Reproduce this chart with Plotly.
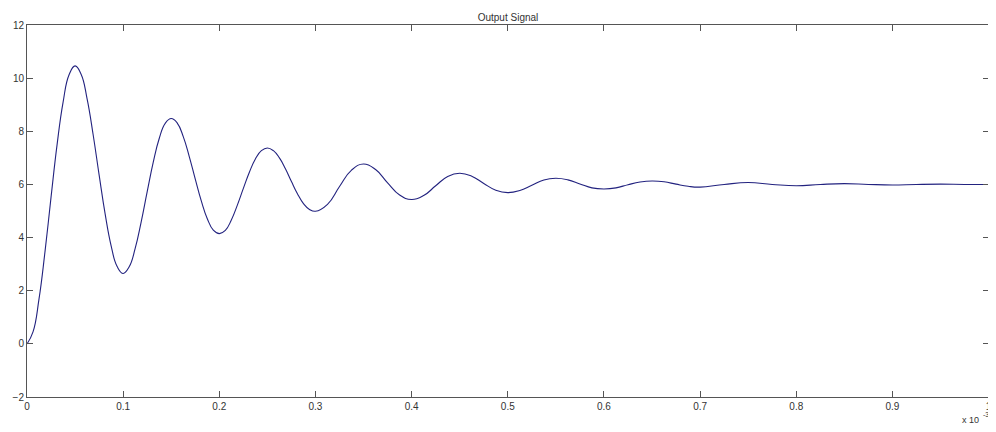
import plotly.graph_objects as go

# time in units of 1e-3 s
t_ms = [0, 0.00625, 0.0125, 0.01875, 0.025, 0.03125, 0.0375, 0.04375,
        0.05, 0.05625, 0.0625, 0.06875, 0.075, 0.08125, 0.0875, 0.09375,
        0.1, 0.10625, 0.1125, 0.11875, 0.125, 0.13125, 0.1375, 0.14375,
        0.15, 0.15625, 0.1625, 0.16875, 0.175, 0.18125, 0.1875, 0.19375,
        0.2, 0.20625, 0.2125, 0.21875, 0.225, 0.23125, 0.2375, 0.24375,
        0.25, 0.25625, 0.2625, 0.26875, 0.275, 0.28125, 0.2875, 0.29375,
        0.3, 0.3125, 0.325, 0.3375, 0.35, 0.3625, 0.375, 0.3875,
        0.4, 0.4125, 0.425, 0.4375, 0.45, 0.4625, 0.475, 0.4875,
        0.5, 0.5125, 0.525, 0.5375, 0.55, 0.5625, 0.575, 0.5875,
        0.6, 0.6125, 0.625, 0.6375, 0.65, 0.6625, 0.675, 0.6875,
        0.7, 0.725, 0.75, 0.775, 0.8, 0.825, 0.85, 0.875,
        0.9, 0.925, 0.95, 0.975, 1.0]
output = [0, 0.45, 1.69, 3.48, 5.52, 7.49, 9.09, 10.13,
          10.46, 10.15, 9.22, 7.88, 6.36, 4.89, 3.69, 2.91,
          2.65, 2.90, 3.59, 4.59, 5.73, 6.83, 7.73, 8.30,
          8.48, 8.31, 7.80, 7.05, 6.20, 5.38, 4.71, 4.28,
          4.15, 4.27, 4.66, 5.22, 5.85, 6.46, 6.96, 7.27,
          7.37, 7.27, 7.00, 6.59, 6.11, 5.65, 5.28, 5.06,
          4.99, 5.25, 5.92, 6.54, 6.77, 6.56, 6.06, 5.60,
          5.43, 5.58, 5.95, 6.30, 6.42, 6.31, 6.035, 5.78,
          5.69, 5.77, 5.97, 6.17, 6.23, 6.17, 6.02, 5.87,
          5.83, 5.87, 5.99, 6.09, 6.13, 6.10, 6.01, 5.93,
          5.90, 6.0, 6.07, 6.0, 5.95, 6.0, 6.03, 6.0,
          5.98, 6.0, 6.01, 6.0, 6.0]

x_ticks = [0, 0.1, 0.2, 0.3, 0.4, 0.5, 0.6, 0.7, 0.8, 0.9, 1]
x_labels = ["0", "0.1", "0.2", "0.3", "0.4", "0.5", "0.6", "0.7", "0.8", "0.9", "1"]
y_ticks = [-2, 0, 2, 4, 6, 8, 10, 12]
exponent_label = ["x 10", "-3"]

FONT = "Liberation Sans, Arial"
TXT = "#333333"

fig = go.Figure()
fig.add_trace(go.Scatter(x=t_ms, y=output, mode="lines",
                         line=dict(color="#22227f", width=1.1, shape="spline",
                                   smoothing=1.3, simplify=False),
                         showlegend=False, hoverinfo="skip"))

axis_common = dict(showgrid=False, zeroline=False, showline=True, linecolor="#555555",
                   linewidth=1, mirror="ticks", ticks="inside", ticklen=6,
                   tickcolor="#555555", ticklabeloverflow="allow",
                   tickfont=dict(family=FONT, size=10, color=TXT))

fig.update_xaxes(range=[0, 1.0004], tickvals=x_ticks, ticktext=x_labels, **axis_common)
fig.update_yaxes(range=[-2, 12], tickvals=y_ticks, **axis_common)

# page body has an 8px margin, so the figure is 988x424 to fill the 996x432 window
fig.update_layout(
    width=988, height=424,
    margin=dict(l=19, r=4, t=17, b=35),
    paper_bgcolor="white", plot_bgcolor="white",
    title=dict(text="Output Signal", xref="paper", x=0.5, xanchor="center",
               yref="container", y=0.985, yanchor="top",
               font=dict(family=FONT, size=10, color=TXT)),
    annotations=[
        dict(text=exponent_label[0], xref="paper", yref="paper", x=0.992, y=-0.062,
             xanchor="right", yanchor="middle", showarrow=False,
             font=dict(family=FONT, size=9, color=TXT)),
        dict(text=exponent_label[1], xref="paper", yref="paper", x=0.992, y=-0.046,
             xanchor="left", yanchor="middle", showarrow=False,
             font=dict(family=FONT, size=7, color=TXT)),
    ],
)

fig.write_html("out.html")
